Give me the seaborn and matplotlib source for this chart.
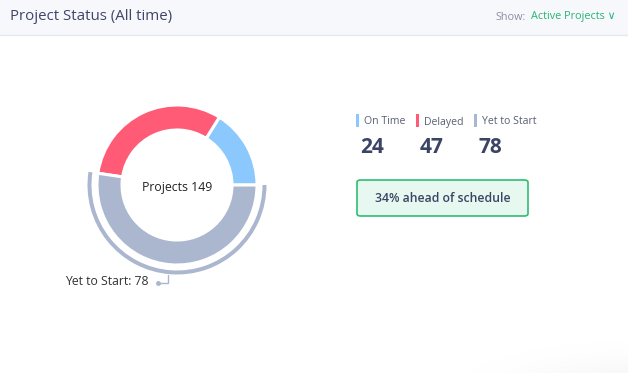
import matplotlib.pyplot as plt
import matplotlib.patches as mpatches
import numpy as np
import seaborn as sns

# Data
categories = ['On Time', 'Delayed', 'Yet to Start']
counts = [24, 47, 78]
colors = ['#8ac8fd', '#ff5a76', '#abb6cf']
ahead_pct = 34
highlight = 'Yet to Start'

sns.set_theme(style='white')
plt.rcParams['font.family'] = ['Open Sans', 'DejaVu Sans']

W, H = 628, 373
fig = plt.figure(figsize=(W / 100, H / 100), dpi=100)
fig.patch.set_facecolor('white')

def fx(x):
    return x / W

def fy(y):
    return 1 - y / H

# soft shadow in bottom-right corner
bg = fig.add_axes([0, 0, 1, 1], zorder=-5)
gx, gy = np.meshgrid(np.arange(W), np.arange(H))
d = np.sqrt(((gx - 640) / 190.0) ** 2 + ((gy - 395) / 55.0) ** 2)
shade = np.clip(1 - d, 0, 1) ** 1.5 * 0.06
img = np.ones((H, W, 3)) - shade[..., None]
bg.imshow(img, extent=[0, 1, 0, 1], aspect='auto', origin='upper')
bg.axis('off')

# Header band
fig.patches.append(mpatches.Rectangle((0, fy(35)), 1, 35 / H, transform=fig.transFigure,
                                      facecolor='#f7f8fc', edgecolor='none', zorder=0))
fig.lines.append(plt.Line2D([0, 1], [fy(35), fy(35)], transform=fig.transFigure,
                            color='#e6e8f0', lw=1))
fig.text(fx(10), fy(17), 'Project Status (All time)', fontsize=10.8, color='#3e4566',
         va='center', ha='left')
fig.text(fx(526), fy(17), 'Show:', fontsize=7.8, color='#8a8fa3', va='center', ha='right')
fig.text(fx(531), fy(17), 'Active Projects \u2228', fontsize=7.8, color='#27b574',
         va='center', ha='left')

# Donut
ax = fig.add_axes([fx(77), fy(285), 200 / W, 200 / H])
wedges, _ = ax.pie(counts, colors=colors, startangle=0, counterclock=True, radius=0.8,
                   wedgeprops=dict(width=0.25, edgecolor='white', linewidth=2.2))
ax.set_xlim(-1, 1)
ax.set_ylim(-1, 1)
ax.axis('off')

# highlighted slice ring
hi = categories.index(highlight)
w = wedges[hi]
ax.add_patch(mpatches.Wedge((0, 0), 0.895, w.theta1, w.theta2, width=0.04,
                            facecolor=colors[hi], edgecolor='none'))
ax.text(0, -0.03, f'Projects {sum(counts)}', ha='center', va='center', fontsize=8.8,
        color='#222222')

# leader line + label
mid = np.deg2rad((w.theta1 + w.theta2) / 2)
x0, y0 = 0.9 * np.cos(mid) - 0.02, 0.9 * np.sin(mid)
ax.plot([x0, x0, x0 - 0.1], [y0, y0 - 0.08, y0 - 0.08], color='#abb6cf', lw=1,
        clip_on=False)
ax.plot([x0 - 0.1], [y0 - 0.08], 'o', color='#abb6cf', ms=2.5, clip_on=False)
ax.text(x0 - 0.2, y0 - 0.065, f'{highlight}: {counts[hi]}', ha='right', va='center',
        fontsize=8.8, color='#333333', clip_on=False)

# Legend with numbers
leg_x = [356, 416, 474]
for x, cat, n, c in zip(leg_x, categories, counts, colors):
    fig.patches.append(mpatches.Rectangle((fx(x), fy(127)), 3 / W, 13 / H,
                                          transform=fig.transFigure, facecolor=c,
                                          edgecolor='none'))
    fig.text(fx(x + 8), fy(124.5), cat, fontsize=7.6, color='#5a5f73', va='baseline',
             ha='left')
    fig.text(fx(x + 4), fy(153), str(n), fontsize=15, fontweight='bold', color='#3b4465',
             va='baseline', ha='left')

# Ahead of schedule box
box = mpatches.FancyBboxPatch((fx(357), fy(216)), 171 / W, 36 / H,
                              boxstyle='round,pad=0,rounding_size=0.006',
                              transform=fig.transFigure, facecolor='#e6f8ef',
                              edgecolor='#2fbd72', lw=1.2)
fig.patches.append(box)
fig.text(fx(443), fy(198), f'{ahead_pct}% ahead of schedule', fontsize=8.8,
         fontweight='semibold', color='#3b4465', ha='center', va='center')

fig.savefig('out.png', dpi=100)
